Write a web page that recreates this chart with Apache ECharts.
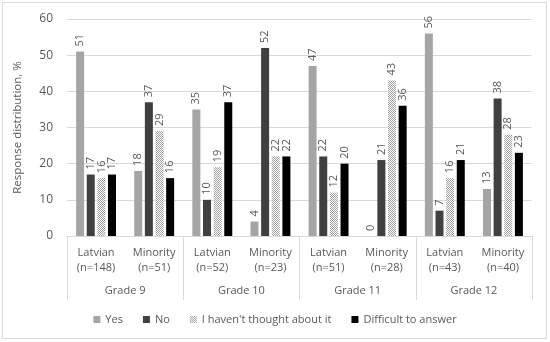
<!DOCTYPE html>
<html><head><meta charset="utf-8">
<script src="https://cdn.jsdelivr.net/npm/echarts@6/dist/echarts.min.js"></script>
<style>
html,body{margin:0;padding:0;background:#fff;}
#frame{position:absolute;left:2px;top:2px;width:543px;height:335px;border:1px solid #d9d9d9;}
#c{position:absolute;left:0;top:0;width:550px;height:342px;}
</style></head>
<body><div id="frame"></div><div id="c"></div>
<script>
const categories = ['Latvian\n(n=148)','Minority\n(n=51)','Latvian\n(n=52)','Minority\n(n=23)','Latvian\n(n=51)','Minority\n(n=28)','Latvian\n(n=43)','Minority\n(n=40)'];
const grades = ['Grade 9','Grade 10','Grade 11','Grade 12'];
const seriesNames = ['Yes','No',"I haven't thought about it",'Difficult to answer'];
const yesVals = [51,18,35,4,47,0,56,13];
const noVals = [17,37,10,52,22,21,7,38];
const notThoughtVals = [16,29,19,22,12,43,16,28];
const difficultVals = [17,16,37,22,20,36,21,23];
const yTicks = [0,10,20,30,40,50,60];

const pc = document.createElement('canvas');
pc.width = 2; pc.height = 2;
const g = pc.getContext('2d');
g.fillStyle = '#ffffff'; g.fillRect(0,0,2,2);
g.fillStyle = '#a0a0a0'; g.fillRect(0,0,1,1); g.fillRect(1,1,1,1);
const pattern = {image: pc, repeat: 'repeat'};

const colors = ['#a5a5a5','#404040',pattern,'#000000'];
const vals = [yesVals,noVals,notThoughtVals,difficultVals];
const font = 'Open Sans, Noto Sans, sans-serif';

const chart = echarts.init(document.getElementById('c'));
chart.setOption({
  animation:false,
  textStyle:{fontFamily:font},
  grid:{left:67,right:18,top:19,bottom:106},
  legend:{bottom:12,left:'center',itemWidth:7,itemHeight:7,itemGap:20,icon:'rect',
    textStyle:{fontFamily:font,fontSize:11,color:'#595959'},data:seriesNames},
  xAxis:[
    {type:'category',data:categories,position:'bottom',
     axisLine:{show:true,lineStyle:{color:'#d9d9d9'}},axisTick:{show:false},
     axisLabel:{fontFamily:font,fontSize:11,color:'#595959',margin:9,lineHeight:15,interval:0}},
    {type:'category',data:grades,position:'bottom',
     axisLine:{show:false},axisTick:{show:true,length:64,lineStyle:{color:'#d9d9d9'}},
     axisLabel:{fontFamily:font,fontSize:11,color:'#595959',margin:49,interval:0}}
  ],
  yAxis:{type:'value',min:yTicks[0],max:yTicks[yTicks.length-1],interval:10,
    name:'Response distribution, %',nameLocation:'middle',nameGap:43,
    nameTextStyle:{fontFamily:font,fontSize:11.5,color:'#595959'},
    axisLine:{show:false},axisTick:{show:false},
    axisLabel:{fontFamily:font,fontSize:12,color:'#595959',margin:14},
    splitLine:{lineStyle:{color:'#d9d9d9'}}},
  series: seriesNames.map((n,i)=>({
    name:n,type:'bar',xAxisIndex:0,data:vals[i],barWidth:8,barGap:'33%',
    itemStyle:{color:colors[i]},
    label:{show:true,position:'top',rotate:90,align:'left',verticalAlign:'middle',distance:5,
      fontFamily:font,fontSize:11,color:'#595959'}
  }))
});
</script></body></html>
